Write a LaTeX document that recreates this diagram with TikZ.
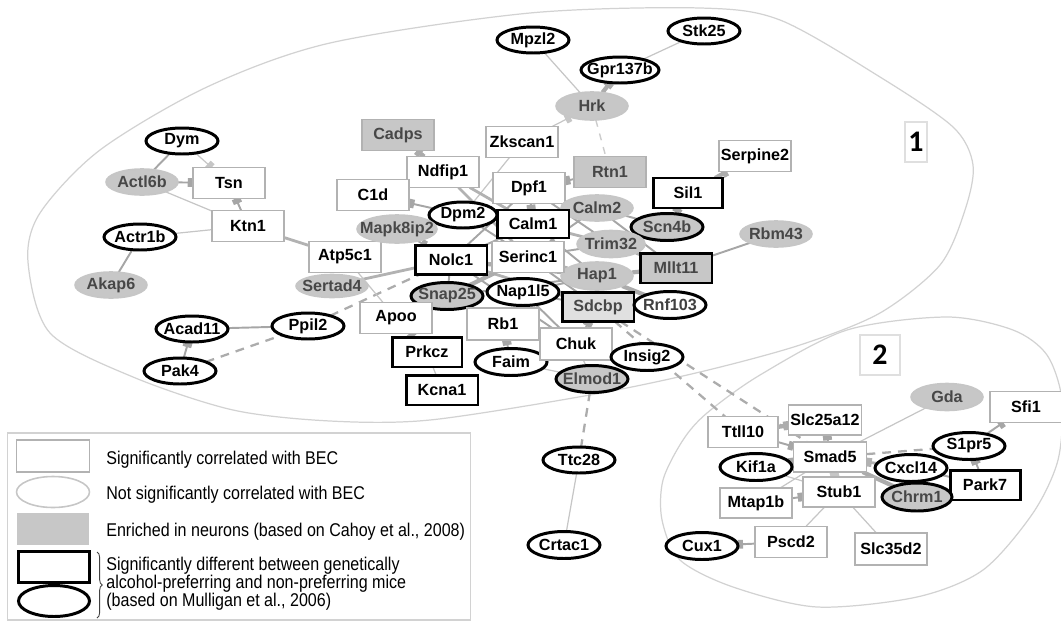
\documentclass[tikz,border=0pt]{standalone}
\usepackage{fontspec}
\setmainfont{Liberation Sans}
\newfontfamily\legfont{Liberation Sans}[FakeStretch=0.87]
\newfontfamily\numfont{Carlito}
\usetikzlibrary{arrows.meta, shapes.geometric, backgrounds, decorations.pathreplacing}

\begin{document}
\begin{tikzpicture}[x=0.02cm, y=-0.02cm,
  gene/.style={font=\fontsize{9.2}{10}\selectfont\bfseries, inner sep=0pt, outer sep=0pt,
    execute at begin node={\hbox to 0pt\bgroup\hss}, execute at end node={\hss\egroup}},
  box/.style={gene, rectangle, draw=gray!60, line width=0.9pt, fill=white, minimum width=1.44cm, minimum height=0.62cm},
  oval/.style={gene, ellipse, draw=gray!45, line width=0.9pt, fill=white, minimum width=1.44cm, minimum height=0.52cm},
  neu/.style={fill=black!22, text=black!72},
  sig/.style={draw=black, line width=1.7pt},
  lk/.style={draw=gray!70, line width=1.1pt},
  lkt/.style={draw=gray!45, line width=0.7pt},
  lkd/.style={draw=gray!60, line width=1.6pt},
  lkh/.style={draw=gray!65, line width=2.4pt},
  dsh/.style={draw=gray!65, line width=1.3pt, dash pattern=on 5pt off 4pt},
  dshl/.style={draw=gray!40, line width=0.8pt, dash pattern=on 4pt off 4pt},
  sq/.style={-{Square[length=3pt,width=5pt]}},
  clus/.style={draw=gray!35, line width=0.7pt},
  leg/.style={font=\legfont\fontsize{10.5}{10.2}\selectfont, inner sep=0pt, align=left}]
\useasboundingbox (0,0) rectangle (1061,622);

% cluster 1
\node[oval, sig] (Dym) at (182,141) {Dym};
\node[oval, neu] (Actl6b) at (142,182) {Actl6b};
\node[box] (Tsn) at (229,183) {Tsn};
\node[box] (Ktn1) at (248,226) {Ktn1};
\node[oval, sig] (Actr1b) at (140,237) {Actr1b};
\node[oval, neu] (Akap6) at (111,285) {Akap6};
\node[box] (Atp5c1) at (345,257) {Atp5c1};
\node[oval, neu, minimum height=0.46cm] (Sertad4) at (332,286) {Sertad4};
\node[oval, sig] (Acad11) at (192,329) {Acad11};
\node[oval, sig] (Pak4) at (180,371) {Pak4};
\node[oval, sig] (Ppil2) at (308,326) {Ppil2};
\node[oval, sig] (Mpzl2) at (533,40) {Mpzl2};
\node[oval, sig] (Stk25) at (704,31) {Stk25};
\node[oval, sig, minimum width=1.56cm] (Gpr137b) at (620,70) {Gpr137b};
\node[oval, neu, minimum height=0.56cm] (Hrk) at (592,106) {Hrk};
\node[box, neu] (Cadps) at (398,135) {Cadps};
\node[box] (Zkscan1) at (522,142) {Zkscan1};
\node[box] (Ndfip1) at (443,172) {Ndfip1};
\node[box, neu] (Rtn1) at (610,172) {Rtn1};
\node[box] (C1d) at (373,195) {C1d};
\node[box] (Dpf1) at (529,188) {Dpf1};
\node[box] (Serpine2) at (755,156) {Serpine2};
\node[box, sig, minimum width=1.38cm, minimum height=0.6cm] (Sil1) at (688,193) {Sil1};
\node[oval, neu] (Calm2) at (597,208) {Calm2};
\node[oval, sig, neu, minimum height=0.54cm] (Scn4b) at (667,227) {Scn4b};
\node[oval, neu] (Rbm43) at (776,234) {Rbm43};
\node[oval, neu, minimum width=1.36cm, minimum height=0.54cm] (Trim32) at (611,244) {Trim32};
\node[box, sig, neu, minimum height=0.6cm] (Mllt11) at (676,268) {Mllt11};
\node[oval, neu, minimum height=0.56cm] (Hap1) at (597,276) {Hap1};
\node[box, sig, fill=black!12, text=black!72, minimum height=0.58cm] (Sdcbp) at (598,307) {Sdcbp};
\node[oval, sig, text=black!75, minimum height=0.54cm] (Rnf103) at (670,305) {Rnf103};
\node[box, sig, minimum height=0.56cm] (Calm1) at (533,224) {Calm1};
\node[oval, sig, minimum width=1.36cm] (Dpm2) at (463,215) {Dpm2};
\node[oval, neu, minimum width=1.6cm, minimum height=0.56cm] (Mapk8ip2) at (397,229) {Mapk8ip2};
\node[box, sig, minimum height=0.58cm] (Nolc1) at (451,260) {Nolc1};
\node[box] (Serinc1) at (528,257) {Serinc1};
\node[oval, sig, neu, minimum height=0.54cm] (Snap25) at (447,296) {Snap25};
\node[oval, sig, minimum height=0.54cm] (Nap1l5) at (523,292) {Nap1l5};
\node[box] (Apoo) at (396,318) {Apoo};
\node[box, minimum height=0.64cm] (Rb1) at (503,324) {Rb1};
\node[box, sig, minimum width=1.4cm, minimum height=0.6cm] (Prkcz) at (427,352) {Prkcz};
\node[oval, sig, minimum height=0.54cm] (Faim) at (511,362) {Faim};
\node[box, minimum height=0.64cm] (Chuk) at (576,344) {Chuk};
\node[oval, sig, minimum height=0.54cm] (Insig2) at (647,357) {Insig2};
\node[oval, sig, neu, minimum height=0.54cm] (Elmod1) at (592,379) {Elmod1};
\node[box, sig, minimum height=0.6cm] (Kcna1) at (442,390) {Kcna1};
\node[oval, sig] (Ttc28) at (579,460) {Ttc28};
\node[oval, sig, minimum height=0.54cm] (Crtac1) at (564,545) {Crtac1};

% cluster 2
\node[oval, neu, minimum height=0.54cm] (Gda) at (947,397) {Gda};
\node[box] (Sfi1) at (1026,407) {Sfi1};
\node[oval, sig, minimum height=0.54cm] (S1pr5) at (969,446) {S1pr5};
\node[box, minimum width=1.4cm] (Ttll10) at (743,432) {Ttll10};
\node[box, minimum width=1.46cm, minimum height=0.6cm] (Slc25a12) at (825,420) {Slc25a12};
\node[box, minimum width=1.46cm, minimum height=0.6cm] (Smad5) at (830,457) {Smad5};
\node[oval, sig, minimum height=0.54cm] (Kif1a) at (756,467) {Kif1a};
\node[oval, sig, minimum height=0.54cm] (Cxcl14) at (911,468) {Cxcl14};
\node[box, sig, minimum width=1.4cm, minimum height=0.6cm] (Park7) at (985,485) {Park7};
\node[oval, sig, neu, minimum width=1.4cm, minimum height=0.56cm] (Chrm1) at (917,497) {Chrm1};
\node[box, minimum height=0.6cm] (Stub1) at (839,492) {Stub1};
\node[box, minimum height=0.6cm] (Mtap1b) at (756,503) {Mtap1b};
\node[oval, sig, minimum height=0.54cm] (Cux1) at (702,546) {Cux1};
\node[box] (Pscd2) at (791,542) {Pscd2};
\node[box, minimum height=0.64cm] (Slc35d2) at (891,549) {Slc35d2};

\node[draw=gray!25, line width=0.6pt, minimum width=0.44cm, minimum height=0.8cm, inner sep=0pt,
  font=\numfont\bfseries\fontsize{17}{17}\selectfont] (lab1) at (916,142) {1};
\node[draw=gray!25, line width=0.6pt, minimum width=0.8cm, minimum height=0.8cm, inner sep=0pt,
  font=\numfont\bfseries\fontsize{17}{17}\selectfont] (lab2) at (880,355) {2};

\begin{scope}[on background layer]
  \draw[clus] plot[smooth cycle] coordinates {(28,262) (40,213) (100,150) (207,87) (330,43) (530,13)
    (700,8) (780,20) (880,77) (953,127) (973,165) (965,210) (940,265) (880,313) (800,345) (700,372)
    (590,395) (430,420) (330,421) (233,410) (133,377) (50,333)};
  \draw[clus] plot[smooth cycle] coordinates {(760,375) (707,413) (683,440) (663,480) (662,520)
    (680,560) (733,587) (817,607) (917,597) (983,570) (1033,513) (1058,460) (1062,400) (1047,355)
    (1013,330) (947,317) (847,330)};

  % left side
  \draw[lk] (Dym) -- (Actl6b);
  \draw[lkt, sq] (Dym) -- (Tsn);
  \draw[lk, sq] (Actl6b) -- (Tsn);
  \draw[lkt] (Actl6b) -- (Ktn1);
  \draw[lk, sq] (Ktn1) -- (Tsn);
  \draw[lkt] (Actr1b) -- (Ktn1);
  \draw[lk] (Actr1b) -- (Akap6);
  \draw[lkd] (Ktn1) -- (Atp5c1);
  \draw[lk] (Acad11) -- (Ppil2);
  \draw[lk, sq] (Pak4) -- (Acad11);
  \draw[dsh] (Pak4) -- (Ppil2);
  \draw[dsh] (Ppil2) -- (Nolc1);
  \draw[lkd] (Sertad4) -- (Nolc1);
  \draw[lkt] (Atp5c1) -- (Apoo);
  \draw[lk, sq] (Apoo) -- (Prkcz);
  \draw[lkt] (Prkcz) -- (Kcna1);

  % top
  \draw[lkt] (Mpzl2) -- (Hrk);
  \draw[lkt] (Stk25) -- (Gpr137b);
  \draw[lkh, sq] (Hrk) -- (Gpr137b);
  \draw[lkt, sq] (Zkscan1) -- (Hrk);
  \draw[dshl] (Hrk) -- (Rtn1);
  \draw[lkh, sq] (Ndfip1) -- (Cadps);
  \draw[lkt] (Zkscan1) -- (Dpm2);
  \draw[lk, sq] (Dpm2) -- (C1d);
  \draw[lk, sq] (Rtn1) -- (Dpf1);
  \draw[lkh, sq] (Sil1) -- (Serpine2);
  \draw[lk, sq] (Scn4b) -- (Sil1);
  \draw[lk] (Mllt11) -- (Rbm43);

  % hub
  \draw[lkd] (Ndfip1) -- (Calm1);
  \draw[lkd] (Ndfip1) -- (Serinc1);
  \draw[lk, sq] (Dpf1) -- (Calm1);
  \draw[lk] (Dpf1) -- (Trim32);
  \draw[lk] (Dpf1) -- (Nolc1);
  \draw[lk, sq] (Mapk8ip2) -- (Nolc1);
  \draw[lk] (Dpm2) -- (Calm1);
  \draw[lk] (Dpm2) -- (Serinc1);
  \draw[lkd] (Calm1) -- (Calm2);
  \draw[lkd] (Calm1) -- (Trim32);
  \draw[lk] (Calm1) -- (Hap1);
  \draw[lk] (Calm2) -- (Scn4b);
  \draw[lk] (Calm2) -- (Mllt11);
  \draw[lk] (Trim32) -- (Scn4b);
  \draw[lkd] (Trim32) -- (Mllt11);
  \draw[lkh] (Hap1) -- (Mllt11);
  \draw[lkh] (Hap1) -- (Rnf103);
  \draw[lk] (Hap1) -- (Sdcbp);
  \draw[lkd] (Serinc1) -- (Hap1);
  \draw[lk] (Serinc1) -- (Trim32);
  \draw[lk] (Serinc1) -- (Calm2);
  \draw[lk] (Serinc1) -- (Sdcbp);
  \draw[lkh] (Nolc1) -- (Hap1);
  \draw[lk] (Nolc1) -- (Calm1);
  \draw[lkd] (Nolc1) -- (Sdcbp);
  \draw[lk] (Nolc1) -- (Chuk);
  \draw[lkh] (Snap25) -- (Serinc1);
  \draw[lk] (Snap25) -- (Hap1);
  \draw[lk] (Snap25) -- (Rb1);
  \draw[lk] (Snap25) -- (Nolc1);
  \draw[lk] (Nap1l5) -- (Sdcbp);
  \draw[lk] (Nap1l5) -- (Chuk);
  \draw[lk] (Nap1l5) -- (Hap1);
  \draw[lk, sq] (Chuk) -- (Sdcbp);
  \draw[lk] (Sdcbp) -- (Rnf103);
  \draw[lk] (Rb1) -- (Chuk);
  \draw[lk, sq] (Faim) -- (Rb1);
  \draw[lkt] (Faim) -- (Elmod1);
  \draw[lkt] (Chuk) -- (Elmod1);
  \draw[lkt] (Chuk) -- (Insig2);
  \draw[dsh] (Elmod1) -- (Ttc28);
  \draw[lkt] (Ttc28) -- (Crtac1);
  \draw[dsh] (Sdcbp) -- (Ttll10);
  \draw[dsh] (Sdcbp) -- (Smad5);

  % cluster 2
  \draw[lkh, sq] (Ttll10) -- (Slc25a12);
  \draw[lk, sq] (Ttll10) -- (Smad5);
  \draw[lk, sq] (Smad5) -- (Slc25a12);
  \draw[lkt] (Gda) -- (Smad5);
  \draw[lk, sq] (S1pr5) -- (Sfi1);
  \draw[dsh] (Smad5) -- (S1pr5);
  \draw[lkd, sq] (Cxcl14) -- (Smad5);
  \draw[lkh] (Smad5) -- (Chrm1);
  \draw[lk, sq] (Park7) -- (S1pr5);
  \draw[lk] (Cxcl14) -- (Park7);
  \draw[lk] (Chrm1) -- (Park7);
  \draw[lk, sq] (Kif1a) -- (Smad5);
  \draw[lkt, sq] (Stub1) -- (Smad5);
  \draw[lkt] (Kif1a) -- (Stub1);
  \draw[lkt] (Mtap1b) -- (Smad5);
  \draw[lk, sq] (Mtap1b) -- (Stub1);
  \draw[lkt] (Stub1) -- (Pscd2);
  \draw[lkt] (Stub1) -- (Slc35d2);
  \draw[lk, sq] (Pscd2) -- (Cux1);
\end{scope}

% legend
\node[draw=gray!35, line width=0.6pt, minimum width=9.28cm, minimum height=3.74cm, inner sep=0pt] (legbox) at (239,526.5) {};
\node[box, minimum width=1.46cm, minimum height=0.64cm] (kbox) at (53,456) {};
\node[oval, minimum width=1.46cm, minimum height=0.62cm] (koval) at (53,492) {};
\node[rectangle, fill=black!22, minimum width=1.46cm, minimum height=0.64cm] (kneu) at (53,529) {};
\node[box, sig, minimum width=1.42cm, minimum height=0.62cm] (ksigbox) at (54,567) {};
\node[oval, sig, minimum width=1.42cm, minimum height=0.62cm] (ksigoval) at (54,601) {};
\draw[black!75, line width=0.5pt, decorate, decoration={brace, amplitude=3pt}] (97,552) -- (97,618);
\node[leg, anchor=west] (ktext1) at (106,460) {Significantly correlated with BEC};
\node[leg, anchor=west] (ktext2) at (106,495) {Not significantly correlated with BEC};
\node[leg, anchor=west] (ktext3) at (106,532) {Enriched in neurons (based on Cahoy et al., 2008)};
\node[leg, anchor=west] (ktext4) at (106,584) {Significantly different between genetically\\alcohol-preferring and non-preferring mice\\(based on Mulligan et al., 2006)};
\end{tikzpicture}
\end{document}
